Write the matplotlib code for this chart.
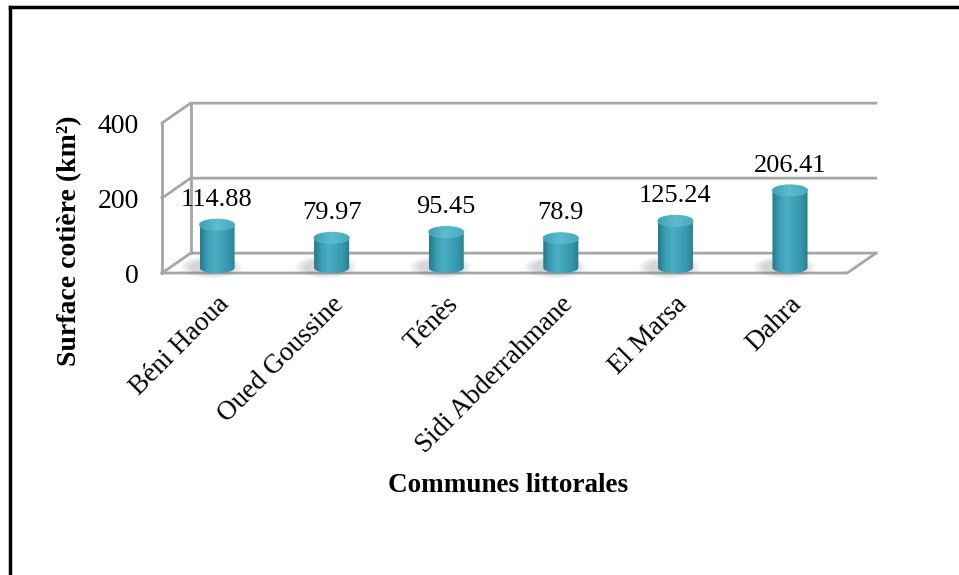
import numpy as np
import matplotlib
matplotlib.use("Agg")
import matplotlib.pyplot as plt
from matplotlib.patches import Polygon, Ellipse
from matplotlib.colors import LinearSegmentedColormap
from matplotlib.lines import Line2D

plt.rcParams['font.family'] = ['Liberation Serif', 'DejaVu Serif']

communes = ['Béni Haoua', 'Oued Goussine', 'Ténès', 'Sidi Abderrahmane', 'El Marsa', 'Dahra']
surface = [114.88, 79.97, 95.45, 78.9, 125.24, 206.41]
value_labels = ['114.88', '79.97', '95.45', '78.9', '125.24', '206.41']
y_ticks = [0, 200, 400]

# 3D box geometry (x in category units, y in km2)
X_LEFT = -0.48
X_RIGHT = 5.5
DX = 0.25
DY = 53.0
BASE = 14.0
RX = 0.153
RY = 14.5
GRID = '#a6a6a6'

body_cmap = LinearSegmentedColormap.from_list(
    'body', [(0.0, '#257a8d'), (0.2, '#3b9db3'), (0.4, '#4aafc4'),
             (0.65, '#3d9fb5'), (0.88, '#3190a6'), (1.0, '#27798c')])
top_cmap = LinearSegmentedColormap.from_list(
    'top', [(0.0, '#3fa0b6'), (0.45, '#5cbccf'), (1.0, '#48aac0')])

fig = plt.figure(figsize=(9.59, 5.75), dpi=100)
ax = fig.add_axes([0, 0, 1, 1])
ax.axis('off')
xlim = (-1.894, 6.475)
ylim = (-805.3, 728.0)

# walls and floor
for t in y_ticks:
    ax.plot([X_LEFT, X_LEFT + DX, X_RIGHT + DX], [t, t + DY, t + DY], color=GRID, lw=2, zorder=1)
ax.plot([X_LEFT, X_LEFT], [0, y_ticks[-1]], color=GRID, lw=2, zorder=1)
ax.plot([X_LEFT + DX, X_LEFT + DX], [DY, y_ticks[-1] + DY], color=GRID, lw=2, zorder=1)
ax.plot([X_LEFT, X_RIGHT, X_RIGHT + DX], [0, 0, DY], color=GRID, lw=2, zorder=1)

for t in y_ticks:
    ax.text(X_LEFT - 0.2, t - 9, str(t), ha='right', va='center', fontsize=20)

# cylinders
for i, (v, lab) in enumerate(zip(surface, value_labels)):
    cx = i
    top = BASE + v
    # shadow
    for k in range(6):
        ax.add_patch(Ellipse((cx - 0.05, BASE + 2), 2 * RX + 0.06 + k * 0.035, 2 * RY + 6 + k * 5,
                             facecolor='#808080', edgecolor='none', alpha=0.06, zorder=2))
    arc = np.linspace(np.pi, 2 * np.pi, 40)
    pts = [(cx - RX, top)] + [(cx + RX * np.cos(a), BASE + RY * np.sin(a)) for a in arc] + [(cx + RX, top)]
    body = Polygon(pts, closed=True, facecolor='none', edgecolor='none', zorder=3)
    ax.add_patch(body)
    grad = np.linspace(0, 1, 64).reshape(1, -1)
    im = ax.imshow(grad, extent=[cx - RX, cx + RX, BASE - RY, top], cmap=body_cmap,
                   aspect='auto', zorder=3, interpolation='bicubic')
    im.set_clip_path(body)
    topc = Ellipse((cx, top), 2 * RX, 2 * RY, facecolor='none', edgecolor='#5dbccf', lw=0.8, zorder=4)
    ax.add_patch(topc)
    im2 = ax.imshow(grad, extent=[cx - RX, cx + RX, top - RY, top + RY], cmap=top_cmap,
                    aspect='auto', zorder=4, interpolation='bicubic')
    im2.set_clip_path(topc)
    ax.annotate(lab, (cx, top + RY), xytext=(0, 6), textcoords='offset points',
                ha='center', va='bottom', fontsize=19)
    ax.text(cx + 0.07, -74, communes[i], rotation=45, rotation_mode='anchor',
            ha='right', va='center', fontsize=19.5)

ax.text(-1.29, 85, 'Surface cotière (km²)', rotation=90, ha='center', va='center',
        fontsize=20, fontweight='bold')
ax.text(2.54, -566, 'Communes littorales', ha='center', va='center', fontsize=19.5, fontweight='bold')

ax.set_xlim(*xlim)
ax.set_ylim(*ylim)

# frame around the chart area (top and left edges visible)
fig.add_artist(Line2D([10 / 959, 10 / 959], [0, 1 - 7 / 575], color='black', lw=2.5))
fig.add_artist(Line2D([10 / 959, 1], [1 - 7 / 575, 1 - 7 / 575], color='black', lw=2.5))

fig.savefig('out.png', dpi=100)
